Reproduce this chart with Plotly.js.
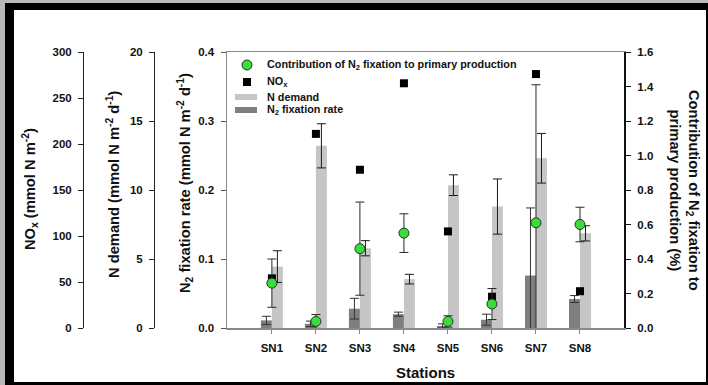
<!DOCTYPE html>
<html>
<head>
<meta charset="utf-8">
<script src="https://cdn.plot.ly/plotly-3.0.1.min.js"></script>
<style>
html,body{margin:0;padding:0;background:#fff;}
#chart{width:708px;height:385px;}
</style>
</head>
<body>
<div id="chart"></div>
<script>
// ---- data ----
const stations = ['SN1','SN2','SN3','SN4','SN5','SN6','SN7','SN8'];
const n2FixRate = [0.011, 0.006, 0.028, 0.020, 0.003, 0.012, 0.076, 0.042];   // mmol N m-2 d-1
const n2FixRateErr = [0.006, 0.004, 0.015, 0.003, 0.003, 0.008, 0.098, 0.005];
const nDemand = [4.45, 13.2, 5.78, 3.54, 10.35, 8.8, 12.3, 6.86];             // mmol N m-2 d-1
const nDemandErr = [1.15, 1.6, 0.55, 0.35, 0.75, 2.0, 1.8, 0.55];
const nox = [54, 211, 172, 266, 105, 34, 276, 40];                            // mmol N m-2
const contribution = [0.26, 0.038, 0.46, 0.55, 0.038, 0.139, 0.61, 0.60];     // %
const contributionErr = [0.14, 0.04, 0.27, 0.112, 0.033, 0.09, 0.80, 0.10];

const legendLabels = ['Contribution of N<sub>2</sub> fixation to primary production', 'NO<sub>x</sub>', 'N demand', 'N<sub>2</sub> fixation rate'];

// ---- styling ----
const W = 708, H = 385;
const px = v => v / W;
const py = v => 1 - v / H;
const FAM = '"Liberation Sans", Arial, sans-serif';
const tickFont = {family: FAM, size: 11.5, color: '#111', weight: 700};
const darkBar = '#7f7f7f', lightBar = '#c6c6c6', green = '#3ddc3d';
const errStyle = (arr, color) => ({type: 'data', array: arr, visible: true, color: color || '#1a1a1a', thickness: 1, width: 4.5});

const traces = [
  {type: 'bar', name: 'N2 fixation rate', x: stations, y: n2FixRate, xaxis: 'x', yaxis: 'y',
   width: 0.25, offset: -0.25, marker: {color: darkBar}, error_y: errStyle(n2FixRateErr, '#333'), showlegend: false},
  {type: 'bar', name: 'N demand', x: stations, y: nDemand, xaxis: 'x', yaxis: 'y2',
   width: 0.25, offset: 0, marker: {color: lightBar}, error_y: errStyle(nDemandErr), showlegend: false},
  {type: 'scatter', mode: 'markers', name: 'NOx', x: stations, y: nox, xaxis: 'x', yaxis: 'y3',
   marker: {symbol: 'square', size: 8, color: '#000'}, showlegend: false},
  {type: 'scatter', mode: 'markers', name: 'Contribution', x: stations, y: contribution, xaxis: 'x', yaxis: 'y4',
   marker: {symbol: 'circle', size: 10, color: green, line: {color: '#1b3d1b', width: 1}},
   error_y: errStyle(contributionErr, '#2a2a2a'), showlegend: false}
];

const dom = [px(227), px(624)];
const ydom = [py(328), py(52)];

const leftAxisBase = {
  showgrid: false, zeroline: false, showline: true, linewidth: 1,
  ticks: 'outside', ticklen: 5, tickwidth: 1, tickfont: tickFont, fixedrange: true
};

const layout = {
  width: W, height: H,
  margin: {l: 0, r: 0, t: 0, b: 0},
  paper_bgcolor: '#b9b9b9',
  plot_bgcolor: 'rgba(0,0,0,0)',
  barmode: 'overlay',
  showlegend: false,
  font: {family: FAM, color: '#111'},
  xaxis: {
    domain: dom, type: 'category', range: [-1.02, 8],
    showline: true, linecolor: '#8a8a8a', linewidth: 1.5, mirror: true,
    ticks: 'outside', ticklen: 4, tickcolor: '#8a8a8a', tickfont: tickFont,
    ticklabelstandoff: 5, showgrid: false, zeroline: false, fixedrange: true
  },
  yaxis: Object.assign({}, leftAxisBase, {
    domain: ydom, range: [0, 0.4], dtick: 0.1, tickformat: '.1f',
    linecolor: '#8a8a8a', linewidth: 1.5, tickcolor: '#555', anchor: 'x', side: 'left', ticklabelstandoff: 4
  }),
  yaxis2: Object.assign({}, leftAxisBase, {
    domain: ydom, range: [0, 20], dtick: 5, overlaying: 'y', anchor: 'free', position: px(154), side: 'left',
    linecolor: '#222', tickcolor: '#222', ticklabelstandoff: 4
  }),
  yaxis3: Object.assign({}, leftAxisBase, {
    domain: ydom, range: [0, 300], dtick: 50, overlaying: 'y', anchor: 'free', position: px(83), side: 'left',
    linecolor: '#222', tickcolor: '#222', ticklabelstandoff: 4
  }),
  yaxis4: Object.assign({}, leftAxisBase, {
    domain: ydom, range: [0, 1.6], dtick: 0.2, tickformat: '.1f', overlaying: 'y', anchor: 'x', side: 'right',
    linecolor: '#111', linewidth: 2, tickcolor: '#111', ticklabelstandoff: 4
  }),
  shapes: [
    // picture frame
    {type: 'rect', xref: 'paper', yref: 'paper', x0: px(5), x1: px(708), y0: py(385), y1: py(3), fillcolor: '#000', line: {width: 0}, layer: 'below'},
    {type: 'rect', xref: 'paper', yref: 'paper', x0: px(14), x1: px(706), y0: py(382), y1: py(10), fillcolor: '#fff', line: {width: 0}, layer: 'below'},
    // legend symbols
    {type: 'circle', xref: 'paper', yref: 'paper', x0: px(242), x1: px(252), y0: py(70), y1: py(60), fillcolor: green, line: {color: '#1b3d1b', width: 1}},
    {type: 'rect', xref: 'paper', yref: 'paper', x0: px(243), x1: px(251), y0: py(86), y1: py(78), fillcolor: '#000', line: {width: 0}},
    {type: 'rect', xref: 'paper', yref: 'paper', x0: px(235), x1: px(257), y0: py(100), y1: py(94), fillcolor: lightBar, line: {width: 0}},
    {type: 'rect', xref: 'paper', yref: 'paper', x0: px(235), x1: px(257), y0: py(113), y1: py(107), fillcolor: darkBar, line: {width: 0}}
  ],
  annotations: [
    // legend text
    {xref: 'paper', yref: 'paper', x: px(265), y: py(65), xanchor: 'left', yanchor: 'middle', showarrow: false, text: '<b>' + legendLabels[0] + '</b>', font: {size: 10.8}},
    {xref: 'paper', yref: 'paper', x: px(265), y: py(82), xanchor: 'left', yanchor: 'middle', showarrow: false, text: '<b>' + legendLabels[1] + '</b>', font: {size: 10.8}},
    {xref: 'paper', yref: 'paper', x: px(265), y: py(97), xanchor: 'left', yanchor: 'middle', showarrow: false, text: '<b>' + legendLabels[2] + '</b>', font: {size: 10.8}},
    {xref: 'paper', yref: 'paper', x: px(265), y: py(110), xanchor: 'left', yanchor: 'middle', showarrow: false, text: '<b>' + legendLabels[3] + '</b>', font: {size: 10.8}},
    // axis titles
    {xref: 'paper', yref: 'paper', x: px(30), y: py(189), xanchor: 'center', yanchor: 'middle', showarrow: false, textangle: -90,
     text: '<b>NO<sub>x</sub> (mmol N m<sup>-2</sup>)</b>', font: {size: 14.7}},
    {xref: 'paper', yref: 'paper', x: px(113), y: py(185), xanchor: 'center', yanchor: 'middle', showarrow: false, textangle: -90,
     text: '<b>N demand (mmol N m<sup>-2</sup> d<sup>-1</sup>)</b>', font: {size: 14.7}},
    {xref: 'paper', yref: 'paper', x: px(185), y: py(183), xanchor: 'center', yanchor: 'middle', showarrow: false, textangle: -90,
     text: '<b>N<sub>2</sub> fixation rate (mmol N m<sup>-2</sup> d<sup>-1</sup>)</b>', font: {size: 14.7}},
    {xref: 'paper', yref: 'paper', x: px(684), y: py(190), xanchor: 'center', yanchor: 'middle', showarrow: false, textangle: 90,
     text: '<b>Contribution of N<sub>2</sub> fixation to<br>primary production (%)</b>', font: {size: 14.7}},
    {xref: 'paper', yref: 'paper', x: px(426), y: py(372), xanchor: 'center', yanchor: 'middle', showarrow: false,
     text: '<b>Stations</b>', font: {size: 15}}
  ]
};

Plotly.newPlot('chart', traces, layout, {staticPlot: true, displayModeBar: false});
</script>
</body>
</html>
